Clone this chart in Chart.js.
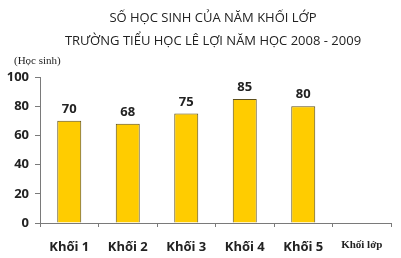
<!DOCTYPE html>
<html>
<head>
<meta charset="utf-8">
<script src="https://cdn.jsdelivr.net/npm/chart.js@4/dist/chart.umd.min.js"></script>
<style>
html,body{margin:0;padding:0;background:#fff;}
#wrap{position:relative;width:401px;height:258px;}
canvas{position:absolute;left:0;top:0;}
.t{position:absolute;white-space:nowrap;color:#222;}
</style>
</head>
<body>
<div id="wrap">
<canvas id="c" width="401" height="258"></canvas>
<div class="t" id="t1" style="left:0;width:426px;text-align:center;top:8px;font:13px 'Open Sans',sans-serif;">SỐ HỌC SINH CỦA NĂM KHỐI LỚP</div>
<div class="t" id="t2" style="left:0;width:426px;text-align:center;top:31px;font:13px 'Open Sans',sans-serif;">TRƯỜNG TIỂU HỌC LÊ LỢI NĂM HỌC 2008 - 2009</div>
<div class="t" style="left:14px;top:54px;font:11px 'Liberation Serif',serif;">(Học sinh)</div>
</div>
<script>
const categories = ['Khối 1','Khối 2','Khối 3','Khối 4','Khối 5','Khối lớp'];
const students = [70, 68, 75, 85, 80, null];
const yTicks = [0, 20, 40, 60, 80, 100];

const valueLabels = {
  id: 'valueLabels',
  afterDatasetsDraw(chart) {
    const ctx = chart.ctx;
    const meta = chart.getDatasetMeta(0);
    ctx.save();
    ctx.font = "bold 13px 'Open Sans', sans-serif";
    ctx.fillStyle = '#222';
    ctx.textAlign = 'center';
    ctx.textBaseline = 'bottom';
    meta.data.forEach((bar, i) => {
      const v = students[i];
      if (v === null) return;
      ctx.fillText(String(v), bar.x, bar.y - 5);
    });
    ctx.restore();
  }
};

new Chart(document.getElementById('c'), {
  type: 'bar',
  data: {
    labels: categories,
    datasets: [{
      data: students,
      backgroundColor: '#FFCC00',
      borderColor: '#5e4f1a',
      borderWidth: 1,
      barPercentage: 0.41,
      categoryPercentage: 1.0
    }]
  },
  options: {
    responsive: false,
    animation: false,
    devicePixelRatio: 1,
    layout: { padding: { top: 77, right: 10, left: 0, bottom: 0 } },
    plugins: { legend: { display: false }, tooltip: { enabled: false }, title: { display: false } },
    scales: {
      x: {
        offset: true,
        border: { display: true, color: '#7a7a7a', width: 1 },
        grid: { display: true, offset: true, drawOnChartArea: false, drawTicks: true, tickLength: 4, color: '#7a7a7a' },
        ticks: {
          color: '#222',
          padding: 12,
          maxRotation: 0,
          autoSkip: false,
          font: (c) => c.index === 5
            ? { family: "'Liberation Serif', serif", size: 11, weight: 'bold' }
            : { family: "'Open Sans', sans-serif", size: 13, weight: 'bold' }
        },
        afterFit(s) { s.height = 35; }
      },
      y: {
        min: 0, max: 100,
        afterBuildTicks(s) { s.ticks = yTicks.map(v => ({ value: v })); },
        border: { display: true, color: '#7a7a7a', width: 1 },
        grid: { display: true, drawOnChartArea: false, drawTicks: true, tickLength: 5, color: '#7a7a7a' },
        ticks: {
          color: '#222',
          padding: 6,
          font: { family: "'Open Sans', sans-serif", size: 13, weight: 'bold' }
        },
        afterFit(s) { s.width = 40; }
      }
    }
  },
  plugins: [valueLabels]
});
</script>
</body>
</html>
